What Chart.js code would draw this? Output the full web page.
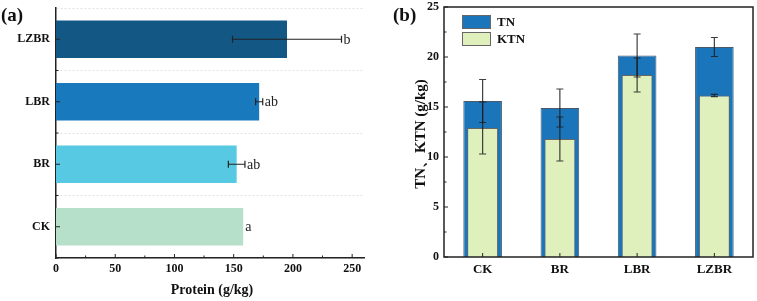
<!DOCTYPE html>
<html>
<head>
<meta charset="utf-8">
<script src="https://cdn.jsdelivr.net/npm/chart.js@4.4.1/dist/chart.umd.min.js"></script>
<style>
    html, body { margin: 0; padding: 0; background: #fff; }
    .wrap { position: relative; width: 757px; height: 301px; overflow: hidden; }
    #proteinBox { position: absolute; left: 0; top: 0; width: 380px; height: 301px; }
    #nitrogenBox { position: absolute; left: 380px; top: 0; width: 377px; height: 301px; }
</style>
</head>
<body>
<div class="wrap">
    <div id="proteinBox"><canvas id="proteinChart"></canvas></div>
    <div id="nitrogenBox"><canvas id="nitrogenChart"></canvas></div>
</div>
<script>
// Data
const treatments = ['CK', 'BR', 'LBR', 'LZBR'];

// (a) protein
const proteinValues = [158, 152.5, 171.5, 195];
const proteinErrors = [0, 7, 3, 46];
const proteinLetters = ['a', 'ab', 'ab', 'b'];
const proteinColors = ['#b7e0cb', '#57c9e2', '#1879bd', '#135884'];
const proteinTicks = [0, 50, 100, 150, 200, 250];

// (b) TN and KTN
const tnValues = [15.6, 14.9, 20.15, 21.0];
const tnErrors = [2.15, 1.9, 2.15, 0.95];
const ktnValues = [12.9, 11.8, 18.2, 16.15];
const ktnErrors = [2.6, 2.2, 1.7, 0.12];
const nitrogenTicks = [0, 5, 10, 15, 20, 25];

const serif = '"Liberation Serif", "DejaVu Serif", serif';
const axisColor = '#222';

Chart.defaults.font.family = serif;
Chart.defaults.color = '#111';
Chart.defaults.animation = false;

// fixed box sizes, no extra label overhang padding
function fixBox(size) {
    return function(scale) {
        if (scale.isHorizontal()) scale.height = size;
        else scale.width = size;
        scale.paddingTop = 0;
        scale.paddingBottom = 0;
        scale.paddingLeft = 0;
        scale.paddingRight = 0;
    };
}

// error bars + letters for the horizontal chart
const proteinExtras = {
    id: 'proteinExtras',
    afterDatasetsDraw(chart) {
        const ctx = chart.ctx;
        const x = chart.scales.x, y = chart.scales.y;
        ctx.save();
        ctx.strokeStyle = '#222';
        ctx.lineWidth = 1.2;
        proteinValues.forEach((v, i) => {
            const yc = y.getPixelForValue(i);
            const e = proteinErrors[i];
            let endX = x.getPixelForValue(v);
            if (e > 0) {
                const x1 = x.getPixelForValue(v - e);
                const x2 = x.getPixelForValue(v + e);
                ctx.beginPath();
                ctx.moveTo(x1, yc); ctx.lineTo(x2, yc);
                ctx.moveTo(x1, yc - 3.5); ctx.lineTo(x1, yc + 3.5);
                ctx.moveTo(x2, yc - 3.5); ctx.lineTo(x2, yc + 3.5);
                ctx.stroke();
                endX = x2;
            }
            ctx.fillStyle = '#222';
            ctx.font = '14px ' + serif;
            ctx.textAlign = 'left';
            ctx.textBaseline = 'middle';
            ctx.fillText(proteinLetters[i], endX + 2, yc + 1);
        });

        // inward ticks
        ctx.strokeStyle = axisColor;
        ctx.lineWidth = 1;
        const a = chart.chartArea;
        ctx.beginPath();
        proteinTicks.forEach(t => {
            const px = x.getPixelForValue(t);
            ctx.moveTo(px, a.bottom); ctx.lineTo(px, a.bottom - 4);
            const mx = x.getPixelForValue(t + 25);
            if (mx < a.right) { ctx.moveTo(mx, a.bottom); ctx.lineTo(mx, a.bottom - 2.5); }
        });
        treatments.forEach((c, i) => {
            const py = y.getPixelForValue(i);
            ctx.moveTo(a.left, py); ctx.lineTo(a.left + 4, py);
            const by = py - (y.getPixelForValue(1) - y.getPixelForValue(0)) / 2;
            ctx.moveTo(a.left, by); ctx.lineTo(a.left + 2.5, by);
        });
        ctx.stroke();

        // axis title and panel tag
        ctx.fillStyle = '#111';
        ctx.textAlign = 'center';
        ctx.textBaseline = 'middle';
        ctx.font = 'bold 14px ' + serif;
        ctx.fillText('Protein (g/kg)', (a.left + a.right) / 2 + 2, 290);
        ctx.textAlign = 'left';
        ctx.font = 'bold 19px ' + serif;
        ctx.fillText('(a)', 1, 16);
        ctx.restore();
    }
};

new Chart(document.getElementById('proteinChart'), {
    type: 'bar',
    data: {
        labels: treatments,
        datasets: [{
            label: 'Protein',
            data: proteinValues,
            backgroundColor: proteinColors,
            borderWidth: 0,
            barPercentage: 0.6,
            categoryPercentage: 1
        }]
    },
    options: {
        indexAxis: 'y',
        responsive: true,
        maintainAspectRatio: false,
        layout: { padding: { left: 0, right: 16, top: 8, bottom: 0 } },
        plugins: { legend: { display: false }, tooltip: { enabled: false } },
        scales: {
            x: {
                min: 0,
                max: 260,
                afterBuildTicks: scale => { scale.ticks = proteinTicks.map(v => ({ value: v })); },
                afterFit: fixBox(43),
                grid: { display: false, drawTicks: false },
                border: { display: true, color: axisColor, width: 1.5 },
                ticks: { padding: 4, font: { size: 12, weight: 'bold' }, color: '#111' }
            },
            y: {
                reverse: true,
                afterFit: fixBox(56),
                grid: {
                    display: true,
                    offset: true,
                    drawTicks: false,
                    color: '#e2e2e2',
                    lineWidth: 1
                },
                // in v4 the dash here applies to the grid lines
                border: { display: true, color: axisColor, width: 1.5, dash: [2, 2] },
                ticks: { padding: 6, font: { size: 12, weight: 'bold' }, color: '#111' }
            }
        }
    },
    plugins: [proteinExtras]
});

// error bars, frame, legend and titles for the grouped chart
const nitrogenExtras = {
    id: 'nitrogenExtras',
    afterDatasetsDraw(chart) {
        const ctx = chart.ctx;
        const x = chart.scales.x, y = chart.scales.y;
        const a = chart.chartArea;
        ctx.save();

        const drawErr = (vals, errs) => {
            vals.forEach((v, i) => {
                const xc = x.getPixelForValue(i);
                const y1 = y.getPixelForValue(v - errs[i]);
                const y2 = y.getPixelForValue(v + errs[i]);
                ctx.beginPath();
                ctx.moveTo(xc, y1); ctx.lineTo(xc, y2);
                ctx.moveTo(xc - 3.5, y1); ctx.lineTo(xc + 3.5, y1);
                ctx.moveTo(xc - 3.5, y2); ctx.lineTo(xc + 3.5, y2);
                ctx.stroke();
            });
        };
        ctx.lineWidth = 1.2;
        ctx.strokeStyle = 'rgba(30,30,30,0.85)';
        drawErr(tnValues, tnErrors);
        drawErr(ktnValues, ktnErrors);

        // frame
        ctx.strokeStyle = axisColor;
        ctx.lineWidth = 1.5;
        ctx.strokeRect(a.left, a.top, a.right - a.left, a.bottom - a.top);

        // inward ticks
        ctx.lineWidth = 1;
        ctx.beginPath();
        nitrogenTicks.forEach(t => {
            const py = y.getPixelForValue(t);
            ctx.moveTo(a.left, py); ctx.lineTo(a.left + 4, py);
            if (t < 25) {
                const my = y.getPixelForValue(t + 2.5);
                ctx.moveTo(a.left, my); ctx.lineTo(a.left + 2.5, my);
            }
        });
        treatments.forEach((c, i) => {
            const px = x.getPixelForValue(i);
            ctx.moveTo(px, a.bottom); ctx.lineTo(px, a.bottom - 4);
        });
        ctx.stroke();

        // legend
        const ds = chart.data.datasets;
        ctx.font = 'bold 13px ' + serif;
        ctx.textAlign = 'left';
        ctx.textBaseline = 'middle';
        ds.forEach((d, i) => {
            const bx = a.left + 18, by = a.top + 8 + i * 17;
            ctx.fillStyle = d.backgroundColor;
            ctx.fillRect(bx, by, 29, 14);
            ctx.strokeStyle = '#666';
            ctx.lineWidth = 1;
            ctx.strokeRect(bx + 0.5, by + 0.5, 28, 13);
            ctx.fillStyle = '#111';
            ctx.fillText(d.label, bx + 35, by + 7.5);
        });

        // titles
        ctx.fillStyle = '#111';
        ctx.font = 'bold 15px ' + serif;
        ctx.textAlign = 'center';
        ctx.save();
        ctx.translate(41, 134);
        ctx.rotate(-Math.PI / 2);
        ctx.fillText('TN、KTN (g/kg)', 0, 0);
        ctx.restore();
        ctx.textAlign = 'left';
        ctx.font = 'bold 19px ' + serif;
        ctx.fillText('(b)', 13, 16);
        ctx.restore();
    }
};

new Chart(document.getElementById('nitrogenChart'), {
    type: 'bar',
    data: {
        labels: treatments,
        datasets: [
            {
                label: 'TN',
                data: tnValues,
                backgroundColor: '#1a75bb',
                borderColor: '#4a5a6a',
                borderWidth: 1,
                barPercentage: 0.5,
                categoryPercentage: 1,
                grouped: false,
                order: 1
            },
            {
                label: 'KTN',
                data: ktnValues,
                backgroundColor: '#e0f0bc',
                borderColor: '#666',
                borderWidth: 1,
                barPercentage: 0.4,
                categoryPercentage: 1,
                grouped: false,
                order: 0
            }
        ]
    },
    options: {
        responsive: true,
        maintainAspectRatio: false,
        layout: { padding: { left: 0, right: 4, top: 7, bottom: 0 } },
        plugins: { legend: { display: false }, tooltip: { enabled: false } },
        scales: {
            x: {
                afterFit: fixBox(44),
                grid: { display: false, drawTicks: false },
                border: { display: false },
                ticks: { padding: 5, font: { size: 13, weight: 'bold' }, color: '#111' }
            },
            y: {
                min: 0,
                max: 25,
                afterBuildTicks: scale => { scale.ticks = nitrogenTicks.map(v => ({ value: v })); },
                afterFit: fixBox(64),
                grid: { display: false, drawTicks: false },
                border: { display: false },
                ticks: { padding: 5, font: { size: 12, weight: 'bold' }, color: '#111' }
            }
        }
    },
    plugins: [nitrogenExtras]
});
</script>
</body>
</html>
